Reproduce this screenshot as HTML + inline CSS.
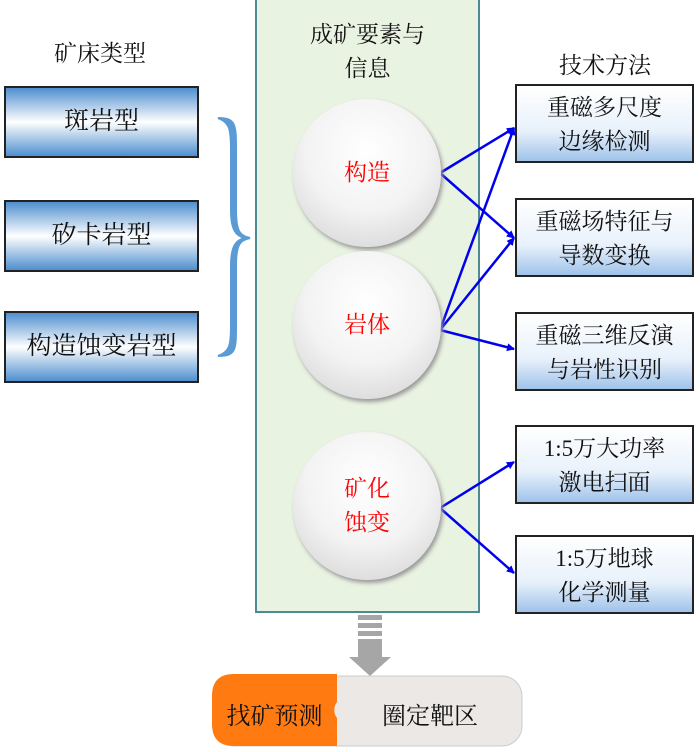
<!DOCTYPE html>
<html><head><meta charset="utf-8"><style>
body{margin:0;width:700px;height:752px;background:#fff;position:relative;overflow:hidden;font-family:"Liberation Serif","Noto Serif CJK SC",serif;}
.a{position:absolute}
.lb{position:absolute;left:4px;width:195px;height:72px;border:2px solid #222;box-sizing:border-box;background:linear-gradient(#4f8fcf 0%,#fff 50%,#4f8fcf 100%);font-size:25px;text-align:center;line-height:68px;color:#111}
.rb{position:absolute;left:515px;width:179px;height:79px;border:2px solid #222;box-sizing:border-box;background:linear-gradient(#fff 0%,#e8f1fb 60%,#9fc3ea 100%);font-size:23px;text-align:center;line-height:34px;padding-top:5px;color:#111}
.h{position:absolute;font-size:23px;color:#111;text-align:center}
.c{position:absolute;width:148px;height:148px;border-radius:50%;background:radial-gradient(circle at 50% 35%,#fff 0%,#f3f3f3 50%,#cfcfcf 100%);box-shadow:2px 3px 4px #999;color:#f00;font-size:23px;text-align:center;display:flex;align-items:center;justify-content:center;line-height:34px}
</style></head><body>
<div class="a" style="left:255px;top:-2px;width:225px;height:615px;background:#e9f3e2;border:2px solid #4e8a92;box-sizing:border-box"></div>
<div class="h" style="left:30px;top:35px;width:140px">矿床类型</div>
<div class="h" style="left:290px;top:18px;width:155px;line-height:34px">成矿要素与<br>信息</div>
<div class="h" style="left:535px;top:47px;width:140px">技术方法</div>
<div class="lb" style="top:86px">斑岩型</div>
<div class="lb" style="top:200px">矽卡岩型</div>
<div class="lb" style="top:311px">构造蚀变岩型</div>
<svg class="a" style="left:0;top:0" width="700" height="752">
<path d="M218,118 C236,118 236,125 236,150 L236,210 C236,232 240,236 250,238 C240,240 236,244 236,266 L236,325 C236,350 236,356 218,356 C230,352 231,345 231,325 L231,266 C231,246 236,240 245,238 C236,236 231,230 231,210 L231,150 C231,130 230,122 218,118Z" fill="#5b9bd5" stroke="#5b9bd5" stroke-width="2"/>
<defs><marker id="m" markerWidth="8" markerHeight="8" refX="7" refY="4" orient="auto" markerUnits="userSpaceOnUse"><path d="M0,0 L8,4 L0,8Z" fill="#0000ee"/></marker></defs>
<g stroke="#0000ee" stroke-width="2.5" fill="none" marker-end="url(#m)">
<line x1="440" y1="173" x2="514" y2="128"/><line x1="440" y1="173" x2="514" y2="238"/>
<line x1="440" y1="330" x2="514" y2="128"/><line x1="440" y1="330" x2="514" y2="238"/><line x1="440" y1="330" x2="514" y2="349"/>
<line x1="440" y1="508" x2="514" y2="462"/><line x1="440" y1="508" x2="514" y2="573"/>
</g>
<g fill="#a6a6a6"><rect x="358" y="615" width="24" height="5"/><rect x="358" y="623" width="24" height="5"/><rect x="358" y="631" width="24" height="5"/><rect x="358" y="639" width="24" height="18"/><path d="M349,657 L391,657 L370,676Z"/></g>
<rect x="214" y="676" width="308" height="70" rx="20" fill="#ebe8e6" stroke="#ccc" filter=""/>
<path d="M234,674 L337,674 L337,702 A13,13 0 0 0 337,718 L337,746 L234,746 Q212,746 212,724 L212,696 Q212,674 234,674Z" fill="#ff7a10"/>
</svg>
<div class="c" style="left:293px;top:99px">构造</div>
<div class="c" style="left:293px;top:251px">岩体</div>
<div class="c" style="left:293px;top:432px">矿化<br>蚀变</div>
<div class="rb" style="top:84px">重磁多尺度<br>边缘检测</div>
<div class="rb" style="top:198px">重磁场特征与<br>导数变换</div>
<div class="rb" style="top:312px">重磁三维反演<br>与岩性识别</div>
<div class="rb" style="top:425px">1:5万大功率<br>激电扫面</div>
<div class="rb" style="top:535px">1:5万地球<br>化学测量</div>
<div class="h" style="left:212px;top:696px;width:125px;font-size:24px">找矿预测</div>
<div class="h" style="left:350px;top:696px;width:160px;font-size:24px">圈定靶区</div>
</body></html>
